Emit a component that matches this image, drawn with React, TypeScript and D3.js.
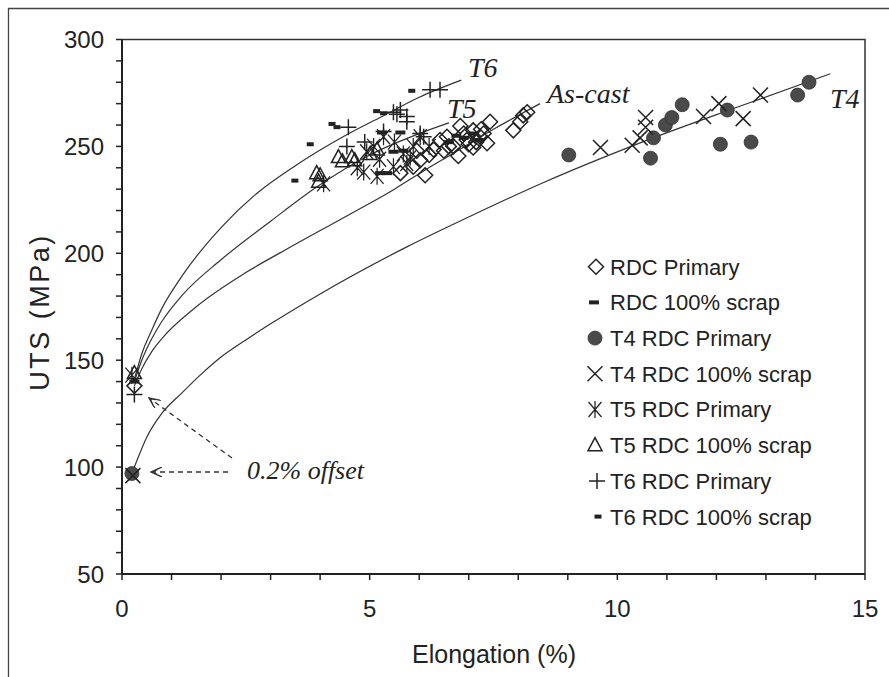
import React from "react";
import * as d3 from "d3";

// ---------- data (Elongation %, UTS MPa) ----------
const xTicks = [0, 5, 10, 15];
const yTicks = [50, 100, 150, 200, 250, 300];

const rdcPrimary: [number, number][] = [
  [0.25, 138], [5.62, 237.5], [6.12, 236.5], [5.88, 240.5], [6.02, 243.5], [6.29, 248.5],
  [6.42, 253], [6.56, 254.5], [6.69, 250], [6.79, 245.5], [6.83, 259.5], [6.96, 253],
  [7.09, 257.5], [7.09, 249.5], [7.23, 254.5], [7.3, 256], [7.37, 251.5], [7.43, 261.5],
  [7.9, 257.5], [8.04, 261.5], [8.1, 264.5], [8.18, 266], [6.6, 250], [6.9, 256], [7.15, 252],
  [5.95, 248], [6.2, 246], [6.5, 248], [7.0, 251], [7.25, 258],
];
const rdcScrap: [number, number][] = [
  [0.25, 140], [5.21, 237.5], [5.35, 237.5], [5.48, 247.5], [5.68, 248], [5.25, 256.5],
  [5.62, 256.5], [6.6, 252], [6.9, 254], [7.1, 256], [7.2, 253], [6.75, 255],
];
const t4Primary: [number, number][] = [
  [0.2, 97], [9.02, 246], [10.67, 244.5], [10.73, 254], [10.97, 260], [11.1, 263.5],
  [11.31, 269.5], [12.22, 267], [12.08, 251], [12.7, 252], [13.64, 274], [13.87, 280],
];
const t4Scrap: [number, number][] = [
  [0.22, 96], [9.66, 249.5], [10.3, 250.5], [10.46, 254], [10.57, 259], [10.57, 263.5],
  [11.74, 264], [12.05, 270], [12.54, 263], [12.89, 274],
];
const t5Primary: [number, number][] = [
  [0.2, 143], [4.07, 232.5], [4.88, 238], [5.15, 236], [5.28, 254.5], [5.08, 250],
  [5.48, 240.5], [5.68, 246.5], [5.82, 245], [6.02, 254.5], [5.88, 250], [5.75, 242],
  [4.94, 247.5], [4.75, 240], [5.5, 252], [5.2, 244], [6.2, 250],
];
const t5Scrap: [number, number][] = [
  [0.25, 144], [4.0, 236.5], [3.97, 233.5], [4.37, 245], [4.64, 245], [4.7, 243.5],
  [3.93, 237.5], [5.01, 246.5], [5.15, 248.5], [4.45, 243],
];
const t6Primary: [number, number][] = [
  [0.25, 134], [4.57, 259], [6.22, 276.5], [6.42, 276.5], [5.48, 266], [5.62, 267],
  [5.75, 264], [5.75, 261.5], [6.09, 254.5], [5.28, 257], [4.54, 250], [6.02, 256],
  [5.55, 265], [4.9, 252],
];
const t6Scrap: [number, number][] = [
  [3.49, 234], [3.8, 251], [4.24, 260.5], [4.34, 259], [5.14, 266.5], [5.28, 265.5], [5.85, 276],
];

// trend curves
const t6Curve: [number, number][] = [
  [0.25, 141], [0.4, 153], [0.6, 164], [0.8, 174], [1.2, 189], [2, 212], [2.72, 228],
  [3.5, 241], [4.5, 255], [5.25, 264], [6, 273], [6.85, 281],
];
const t5Curve: [number, number][] = [
  [0.25, 140], [0.4, 150], [0.6, 160], [0.8, 168], [1.2, 180], [2, 197], [3, 215],
  [3.93, 231], [5, 246], [6, 256], [6.6, 261],
];
const asCastCurve: [number, number][] = [
  [0.25, 138], [0.4, 146], [0.6, 154], [0.8, 160], [1.5, 175], [2.5, 191], [3.33, 202],
  [4.5, 217], [5.5, 230], [6.12, 239], [6.63, 246], [7.5, 258], [8.44, 270],
];
const t4Curve: [number, number][] = [
  [0.2, 97], [0.3, 103], [0.5, 114], [0.8, 125], [1.2, 134.5], [1.6, 143.5], [2, 151.5],
  [2.5, 159.5], [3, 167], [4, 181], [5.75, 203], [7, 217], [8.5, 233], [10.5, 252],
  [12.5, 269], [14.3, 284],
];

const legendLabels = [
  "RDC Primary", "RDC 100% scrap", "T4 RDC Primary", "T4 RDC 100% scrap",
  "T5 RDC Primary", "T5 RDC 100% scrap", "T6 RDC Primary", "T6 RDC 100% scrap",
];

// ---------- layout ----------
const W = 889, H = 677;
const L = 122, R = 865, T = 39.5, B = 574;
const x = d3.scaleLinear().domain([0, 15]).range([L, R]);
const y = d3.scaleLinear().domain([50, 300]).range([B, T]);
const INK = "#222";
const SANS = "'Liberation Sans', Arial, sans-serif";
const SERIF = "'Liberation Serif', 'Times New Roman', serif";

type Kind = "diamond" | "dash" | "dot" | "x" | "ast" | "tri" | "plus" | "sdash";

function Marker({ kind, cx, cy }: { kind: Kind; cx: number; cy: number }) {
  const sw = 1.5;
  switch (kind) {
    case "diamond":
      return <path d={`M${cx},${cy - 7.5}L${cx + 7.5},${cy}L${cx},${cy + 7.5}L${cx - 7.5},${cy}Z`} fill="none" stroke={INK} strokeWidth={sw} />;
    case "dash":
      return <rect x={cx - 5} y={cy - 2} width={10} height={4} fill={INK} />;
    case "sdash":
      return <rect x={cx - 3.5} y={cy - 2} width={7} height={4} fill={INK} />;
    case "dot":
      return <circle cx={cx} cy={cy} r={7} fill="#4a4a4a" stroke="#333" strokeWidth={0.8} />;
    case "x":
      return <path d={`M${cx - 7.5},${cy - 7.5}L${cx + 7.5},${cy + 7.5}M${cx - 7.5},${cy + 7.5}L${cx + 7.5},${cy - 7.5}`} stroke={INK} strokeWidth={sw} />;
    case "ast":
      return <path d={`M${cx - 6.5},${cy - 7.5}L${cx + 6.5},${cy + 7.5}M${cx - 6.5},${cy + 7.5}L${cx + 6.5},${cy - 7.5}M${cx},${cy - 8.5}L${cx},${cy + 8.5}`} stroke={INK} strokeWidth={1.25} />;
    case "tri":
      return <path d={`M${cx},${cy - 7.5}L${cx + 7},${cy + 5.5}L${cx - 7},${cy + 5.5}Z`} fill="none" stroke={INK} strokeWidth={sw} />;
    case "plus":
      return <path d={`M${cx - 8},${cy}L${cx + 8},${cy}M${cx},${cy - 8}L${cx},${cy + 8}`} stroke={INK} strokeWidth={sw} />;
  }
  return null;
}

const series: { kind: Kind; data: [number, number][] }[] = [
  { kind: "diamond", data: rdcPrimary },
  { kind: "dash", data: rdcScrap },
  { kind: "dot", data: t4Primary },
  { kind: "x", data: t4Scrap },
  { kind: "ast", data: t5Primary },
  { kind: "tri", data: t5Scrap },
  { kind: "plus", data: t6Primary },
  { kind: "sdash", data: t6Scrap },
];

export default function App() {
  const line = d3.line<[number, number]>().x((d) => x(d[0])).y((d) => y(d[1])).curve(d3.curveMonotoneX);
  const yMinor = d3.range(50, 301, 10);
  const xMinor = d3.range(0, 16, 1);
  const legendY0 = 266.7, legendDy = 35.7;
  const legendMarkX = [596, 594, 595, 595, 595, 595, 597, 598];

  return (
    <svg width={W} height={H} style={{ position: "absolute", left: 0, top: 0, background: "#fff" }}>
      <defs>
        <marker id="arr" viewBox="0 0 12 10" refX="11" refY="5" markerWidth="12" markerHeight="10" markerUnits="userSpaceOnUse" orient="auto">
          <path d="M0,0L11,5L0,10M5,2.5L10,5L5,7.5" fill="none" stroke="#333" strokeWidth={1.4} />
        </marker>
      </defs>
      <rect x={0} y={0} width={W} height={H} fill="#fff" />
      {/* outer frame */}
      <path d={`M8.5,${H + 5}L8.5,8.5L${W + 5},8.5`} fill="none" stroke="#444" strokeWidth={1.3} />
      {/* plot box top/right */}
      <path d={`M${L},${T}L${R},${T}L${R},${B}`} fill="none" stroke="#333" strokeWidth={1.5} />
      {/* axes */}
      <line x1={L} x2={L} y1={T} y2={B} stroke={INK} strokeWidth={2} />
      <line x1={L} x2={R} y1={B} y2={B} stroke={INK} strokeWidth={2} />
      {yMinor.map((v) => (
        <line key={"ym" + v} x1={L - 6} x2={L} y1={y(v)} y2={y(v)} stroke={INK} strokeWidth={1.5} />
      ))}
      {xMinor.map((v) => (
        <line key={"xm" + v} x1={x(v)} x2={x(v)} y1={B} y2={B + 6} stroke={INK} strokeWidth={1.5} />
      ))}
      {yTicks.map((v) => (
        <text key={"yl" + v} x={L - 18} y={y(v)} dy="0.36em" textAnchor="end" fontFamily={SANS} fontSize={24} fill={INK}>
          {v}
        </text>
      ))}
      {xTicks.map((v) => (
        <text key={"xl" + v} x={x(v)} y={B + 43} textAnchor="middle" fontFamily={SANS} fontSize={24} fill={INK}>
          {v}
        </text>
      ))}
      <text x={494} y={663} textAnchor="middle" fontFamily={SANS} fontSize={25} fill={INK}>
        Elongation (%)
      </text>
      <text transform={`translate(49,${312}) rotate(-90)`} textAnchor="middle" fontFamily={SANS} fontSize={27} letterSpacing={2.5} fill={INK}>
        UTS (MPa)
      </text>

      {/* curves */}
      {[t6Curve, t5Curve, asCastCurve, t4Curve].map((c, i) => (
        <path key={"c" + i} d={line(c) || ""} fill="none" stroke="#333" strokeWidth={1.2} />
      ))}

      {/* markers */}
      {series.map((s, i) => (
        <g key={"s" + i}>
          {s.data.map((d, j) => (
            <Marker key={j} kind={s.kind} cx={x(d[0])} cy={y(d[1])} />
          ))}
        </g>
      ))}

      {/* annotations */}
      <text x={468} y={77} fontFamily={SERIF} fontStyle="italic" fontSize={28} fill={INK}>T6</text>
      <text x={447} y={118} fontFamily={SERIF} fontStyle="italic" fontSize={28} fill={INK}>T5</text>
      <text x={547} y={103} fontFamily={SERIF} fontStyle="italic" fontSize={28} fill={INK}>As-cast</text>
      <text x={830} y={108} fontFamily={SERIF} fontStyle="italic" fontSize={28} fill={INK}>T4</text>
      <text x={247} y={479} fontFamily={SERIF} fontStyle="italic" fontSize={26} fill={INK}>0.2% offset</text>
      <line x1={228} y1={472} x2={151} y2={472} stroke="#333" strokeWidth={1.3} strokeDasharray="5,4" markerEnd="url(#arr)" />
      <line x1={232} y1={458} x2={149} y2={398} stroke="#333" strokeWidth={1.3} strokeDasharray="5,4" markerEnd="url(#arr)" />

      {/* legend */}
      {legendLabels.map((lab, i) => (
        <g key={"lg" + i}>
          <Marker kind={series[i].kind} cx={legendMarkX[i]} cy={legendY0 + i * legendDy} />
          <text x={610} y={legendY0 + i * legendDy} dy="0.36em" fontFamily={SANS} fontSize={22} fill={INK}>
            {lab}
          </text>
        </g>
      ))}
    </svg>
  );
}
